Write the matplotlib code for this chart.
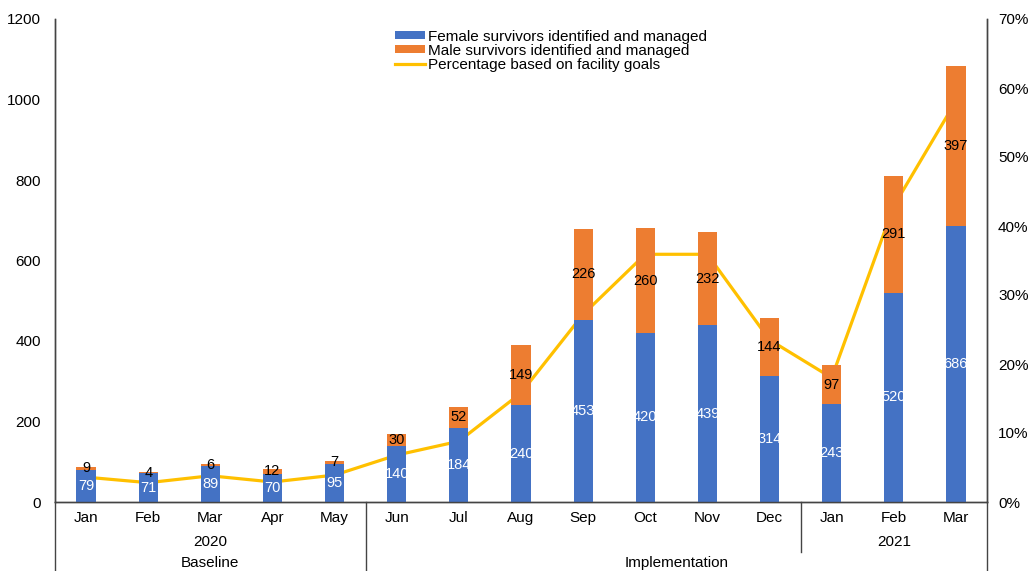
import numpy as np
import matplotlib
matplotlib.use('Agg')
import matplotlib.pyplot as plt
from matplotlib.lines import Line2D

plt.rcParams['font.family'] = ['Liberation Sans', 'DejaVu Sans']

# datos del gráfico
meses = ['Jan', 'Feb', 'Mar', 'Apr', 'May', 'Jun', 'Jul', 'Aug', 'Sep', 'Oct',
         'Nov', 'Dec', 'Jan', 'Feb', 'Mar']
mujeres = [79, 71, 89, 70, 95, 140, 184, 240, 453, 420, 439, 314, 243, 520, 686]
hombres = [9, 4, 6, 12, 7, 30, 52, 149, 226, 260, 232, 144, 97, 291, 397]
porcentaje = [3.6, 2.8, 3.8, 2.9, 3.9, 6.8, 8.8, 15.8, 27.2, 35.9, 35.9, 23.5,
              18.0, 42.9, 58.1]

azul = '#4472C4'
naranja = '#ED7D31'
amarillo = '#FFC000'

fig = plt.figure(figsize=(10.30, 5.71), dpi=100)
ax = fig.add_axes([55 / 1030, 69 / 571, 932 / 1030, 483 / 571])
ax2 = ax.twinx()

x = np.arange(len(meses))
ancho = 0.31
ax.bar(x, mujeres, ancho, color=azul, label='Female survivors identified and managed', zorder=2)
ax.bar(x, hombres, ancho, bottom=mujeres, color=naranja,
       label='Male survivors identified and managed', zorder=2)

# etiquetas de valores centradas en cada segmento
for i in range(len(meses)):
    ax.text(x[i], mujeres[i] / 2, str(mujeres[i]), ha='center', va='center',
            color='white', fontsize=10.5, zorder=4)
    ax.text(x[i], mujeres[i] + hombres[i] / 2, str(hombres[i]), ha='center',
            va='center', color='black', fontsize=10.5, zorder=4)

linea, = ax2.plot(x, porcentaje, color=amarillo, lw=2.3,
                  label='Percentage based on facility goals', zorder=3)

ax.set_xlim(-0.5, len(meses) - 0.5)
ax.set_ylim(0, 1200)
ax.set_yticks(range(0, 1201, 200))
ax2.set_ylim(0, 70)
ax2.set_yticks(range(0, 71, 10))
ax2.set_yticklabels([f'{v}%' for v in range(0, 71, 10)])

ax.set_zorder(ax2.get_zorder() + 1)
ax.patch.set_visible(False)

for a in (ax, ax2):
    a.spines['top'].set_visible(False)
    a.tick_params(length=0, labelsize=11, colors='black')
    for s in ('left', 'right', 'bottom'):
        a.spines[s].set_color('#444444')
        a.spines[s].set_linewidth(1.0)
ax.tick_params(axis='y', pad=10)
ax2.tick_params(axis='y', pad=8)
ax.set_xticks(x)
ax.set_xticklabels([])

# ejes de categorías en varias filas
trans = ax.get_xaxis_transform()
for i, m in enumerate(meses):
    ax.text(x[i], -0.033, m, transform=trans, ha='center', va='center', fontsize=11)
ax.text(2, -0.082, '2020', transform=trans, ha='center', va='center', fontsize=11)
ax.text(13, -0.082, '2021', transform=trans, ha='center', va='center', fontsize=11)
ax.text(2, -0.127, 'Baseline', transform=trans, ha='center', va='center', fontsize=11)
ax.text(9.5, -0.127, 'Implementation', transform=trans, ha='center', va='center',
        fontsize=11)

for xv, y0 in [(-0.5, -0.2), (4.5, -0.2), (11.5, -0.104), (14.5, -0.2)]:
    ax.add_line(Line2D([xv, xv], [0, y0], transform=trans, color='#444444',
                       lw=1.0, clip_on=False))

handles = [ax.containers[0], ax.containers[1], linea]
labels = [h.get_label() for h in handles]
ax.legend(handles, labels, loc='upper center', bbox_to_anchor=(0.532, 1.0),
          frameon=False, fontsize=11, handlelength=2.0, handleheight=0.45,
          labelspacing=0.0, handletextpad=0.2, borderaxespad=0.3)

plt.savefig('out.png', dpi=100)
